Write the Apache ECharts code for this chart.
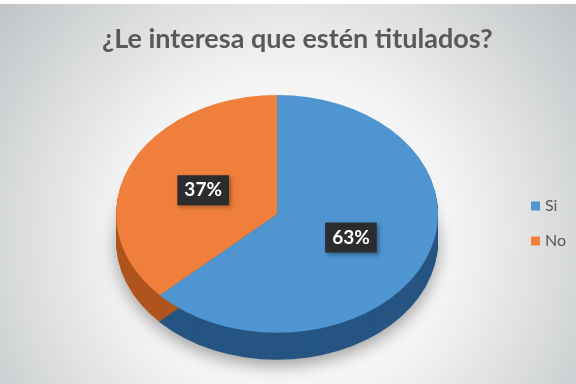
<!DOCTYPE html>
<html>
<head>
<meta charset="utf-8">
<script src="https://cdn.jsdelivr.net/npm/echarts@6/dist/echarts.min.js"></script>
<style>
  html, body { margin: 0; padding: 0; background: #ffffff; }
  #chart { width: 576px; height: 384px; }
</style>
</head>
<body>
<div id="chart"></div>
<script>
// Survey answers
const categories = ['Si', 'No'];
const values = [63, 37];

// Face and side colours for each slice
const faceColors = ['#4e95d1', '#f07f3b'];
const sideColors = ['#265583', '#b0541d'];

const total = values.reduce((a, b) => a + b, 0);

// Tilted pie geometry
const PIE = { cxRatio: 0.481, cyRatio: 0.557, r: 161, tilt: 0.739, depth: 27 };

function sliceRenderer(index) {
  return function (params, api) {
    const w = api.getWidth();
    const h = api.getHeight();
    const cx = w * PIE.cxRatio;
    const cy = h * PIE.cyRatio;
    const before = values.slice(0, index).reduce((a, b) => a + b, 0);
    const v = api.value(0);
    const start = -Math.PI / 2 + (before / total) * Math.PI * 2;
    const end = start + (v / total) * Math.PI * 2;
    const children = [];

    // side wall: stacked ellipse slices below the face
    for (let k = PIE.depth; k >= 1; k--) {
      const el = {
        type: 'sector',
        shape: { cx: cx, cy: cy, r: PIE.r, startAngle: start, endAngle: end, clockwise: true },
        originX: cx, originY: cy, scaleY: PIE.tilt, y: k,
        style: { fill: sideColors[index] },
        z2: k === PIE.depth ? 0 : 1,
        silent: true
      };
      if (k === PIE.depth) {
        el.style.shadowBlur = 16;
        el.style.shadowColor = 'rgba(0,0,0,0.35)';
        el.style.shadowOffsetY = 6;
      }
      children.push(el);
    }

    // top face
    children.push({
      type: 'sector',
      shape: { cx: cx, cy: cy, r: PIE.r, startAngle: start, endAngle: end, clockwise: true },
      originX: cx, originY: cy, scaleY: PIE.tilt,
      style: { fill: faceColors[index] },
      z2: 10
    });

    // percentage label at half radius
    const mid = (start + end) / 2;
    const lx = cx + PIE.r * 0.5 * Math.cos(mid);
    const ly = cy + PIE.r * 0.5 * PIE.tilt * Math.sin(mid);
    children.push({
      type: 'text',
      x: lx, y: ly,
      z2: 20,
      style: {
        text: Math.round((v / total) * 100) + '%',
        fill: '#ffffff',
        font: 'bold 19px Lato, "Open Sans", sans-serif',
        align: 'center',
        verticalAlign: 'middle',
        backgroundColor: '#2b2c2e',
        padding: [6, 7, 5, 7],
        shadowBlur: 4,
        shadowColor: 'rgba(0,0,0,0.35)',
        shadowOffsetX: 2,
        shadowOffsetY: 2
      }
    });

    return { type: 'group', children: children };
  };
}

const chart = echarts.init(document.getElementById('chart'), null, { renderer: 'canvas' });

chart.setOption({
  animation: false,
  backgroundColor: {
    type: 'radial', x: 0.5, y: 0.62, r: 0.95,
    colorStops: [
      { offset: 0, color: '#ffffff' },
      { offset: 0.45, color: '#f4f4f4' },
      { offset: 1, color: '#c2c6c8' }
    ]
  },
  title: {
    text: '¿Le interesa que estén titulados?',
    left: 97,
    top: 21,
    textStyle: {
      fontFamily: 'Lato, "Open Sans", sans-serif',
      fontSize: 27,
      fontWeight: 'bold',
      color: '#595959'
    }
  },
  legend: {
    orient: 'vertical',
    left: 526,
    top: 193,
    icon: 'rect',
    itemWidth: 9,
    itemHeight: 9,
    itemGap: 19,
    data: categories,
    textStyle: {
      fontFamily: 'Lato, "Open Sans", sans-serif',
      fontSize: 16,
      color: '#595959'
    }
  },
  graphic: [
    { type: 'rect', shape: { x: 0, y: 0, width: 576, height: 4 }, style: { fill: '#ffffff' }, z: 100 }
  ],
  series: categories.map((name, i) => ({
    type: 'custom',
    name: name,
    coordinateSystem: 'none',
    itemStyle: { color: faceColors[i] },
    renderItem: sliceRenderer(i),
    data: [[values[i]]]
  }))
});
</script>
</body>
</html>
